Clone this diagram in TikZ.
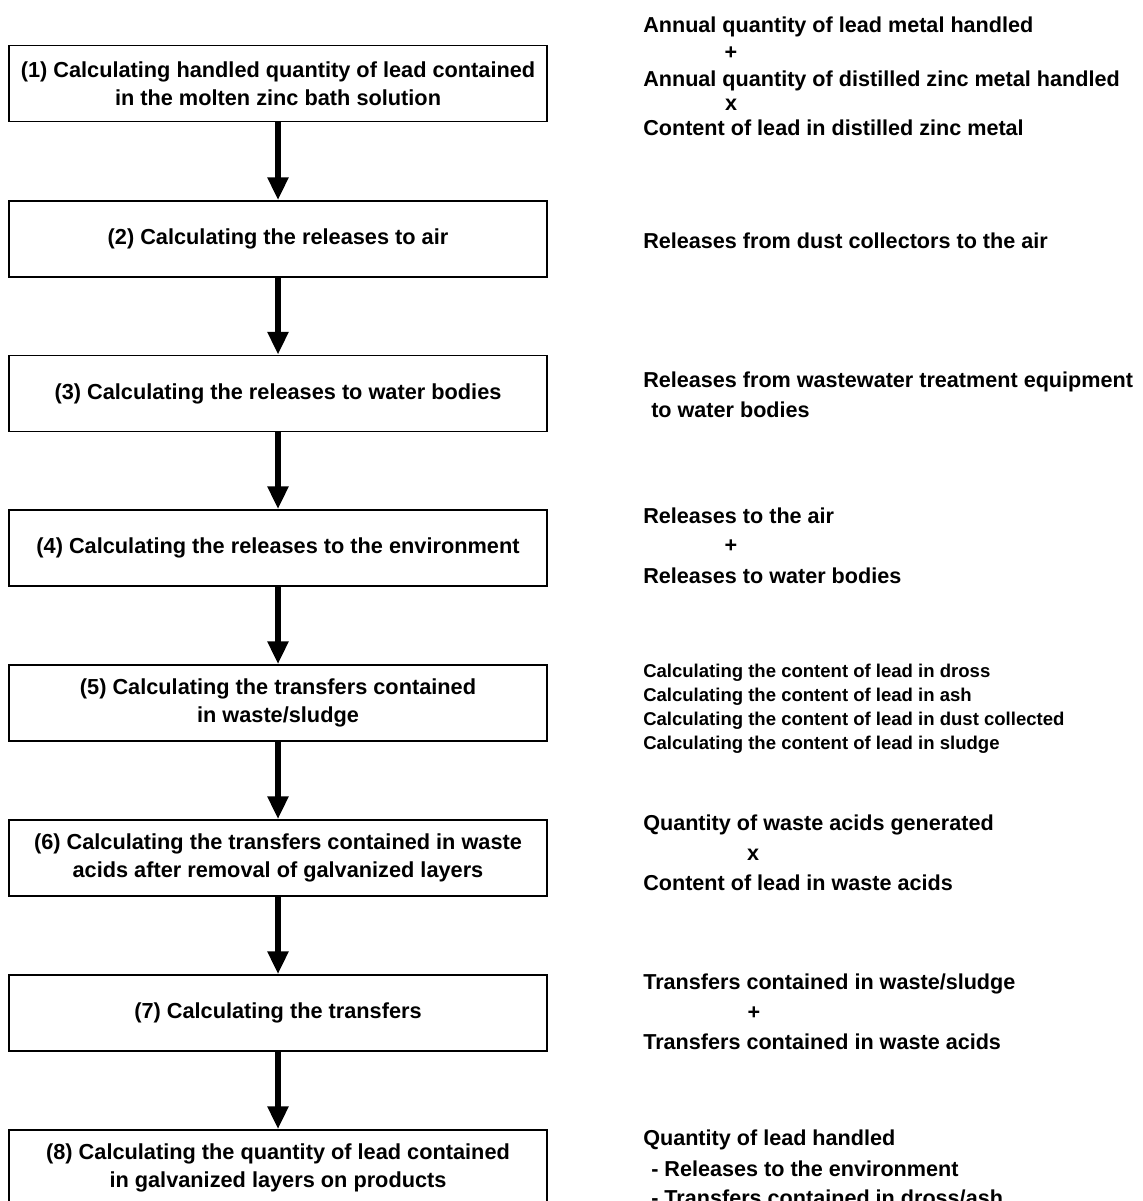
\documentclass[tikz,border=0pt]{standalone}
\usepackage{fontspec}
\setmainfont{Liberation Sans}
\usetikzlibrary{arrows.meta}
\begin{document}
\begin{tikzpicture}[x=0.75pt,y=-0.75pt,
  stepbox/.style={draw,line width=1.4pt,minimum width=403.5pt,minimum height=57pt,
    inner sep=0pt,align=center,font=\bfseries\fontsize{16.3}{21}\selectfont},
  flow/.style={line width=4pt,-{Triangle[width=15pt,length=17pt]}},
  note/.style={anchor=west,inner sep=0pt,font=\bfseries\fontsize{16.2}{21}\selectfont},
  small/.style={anchor=west,inner sep=0pt,font=\bfseries\fontsize{13.9}{18}\selectfont},
  op/.style={inner sep=0pt,font=\bfseries\fontsize{16.2}{21}\selectfont}]
\useasboundingbox (0,0) rectangle (1142,1201);
\clip (0,0) rectangle (1142,1201);

% process steps
\node[stepbox] (s1) at (278,83.5) {(1) Calculating handled quantity of lead contained\\in the molten zinc bath solution};
\node[stepbox] (s2) at (278,239) {(2) Calculating the releases to air};
\node[stepbox] (s3) at (278,393.5) {(3) Calculating the releases to water bodies};
\node[stepbox] (s4) at (278,548) {(4) Calculating the releases to the environment};
\node[stepbox] (s5) at (278,703) {(5) Calculating the transfers contained\\in waste/sludge};
\node[stepbox] (s6) at (278,858) {(6) Calculating the transfers contained in waste\\acids after removal of galvanized layers};
\node[stepbox] (s7) at (278,1013) {(7) Calculating the transfers};
\node[stepbox] (s8) at (278,1168) {(8) Calculating the quantity of lead contained\\in galvanized layers on products};

\draw[flow] (s1) -- (s2);
\draw[flow] (s2) -- (s3);
\draw[flow] (s3) -- (s4);
\draw[flow] (s4) -- (s5);
\draw[flow] (s5) -- (s6);
\draw[flow] (s6) -- (s7);
\draw[flow] (s7) -- (s8);

% formulas beside each step
\node[note] (r1a) at (643,27) {Annual quantity of lead metal handled};
\node[op]   (r1p) at (731,53) {+};
\node[note] (r1b) at (643,81) {Annual quantity of distilled zinc metal handled};
\node[op]   (r1x) at (731,105) {x};
\node[note] (r1c) at (643,128) {Content of lead in distilled zinc metal};

\node[note] (r2) at (643,241) {Releases from dust collectors to the air};

\node[note] (r3a) at (643,382) {Releases from wastewater treatment equipment};
\node[note] (r3b) at (651,410) {to water bodies};

\node[note] (r4a) at (643,516) {Releases to the air};
\node[op]   (r4p) at (731,546) {+};
\node[note] (r4b) at (643,576) {Releases to water bodies};

\node[small] (r5a) at (643,673) {Calculating the content of lead in dross};
\node[small] (r5b) at (643,697) {Calculating the content of lead in ash};
\node[small] (r5c) at (643,721) {Calculating the content of lead in dust collected};
\node[small] (r5d) at (643,745) {Calculating the content of lead in sludge};

\node[note] (r6a) at (643,825) {Quantity of waste acids generated};
\node[op]   (r6x) at (753,855) {x};
\node[note] (r6b) at (643,883) {Content of lead in waste acids};

\node[note] (r7a) at (643,984) {Transfers contained in waste/sludge};
\node[op]   (r7p) at (754,1013) {+};
\node[note] (r7b) at (643,1042) {Transfers contained in waste acids};

\node[note] (r8a) at (643,1140) {Quantity of lead handled};
\node[note] (r8b) at (651,1169) {- Releases to the environment};
\node[note] (r8c) at (651,1198) {- Transfers contained in dross/ash};
\end{tikzpicture}
\end{document}
